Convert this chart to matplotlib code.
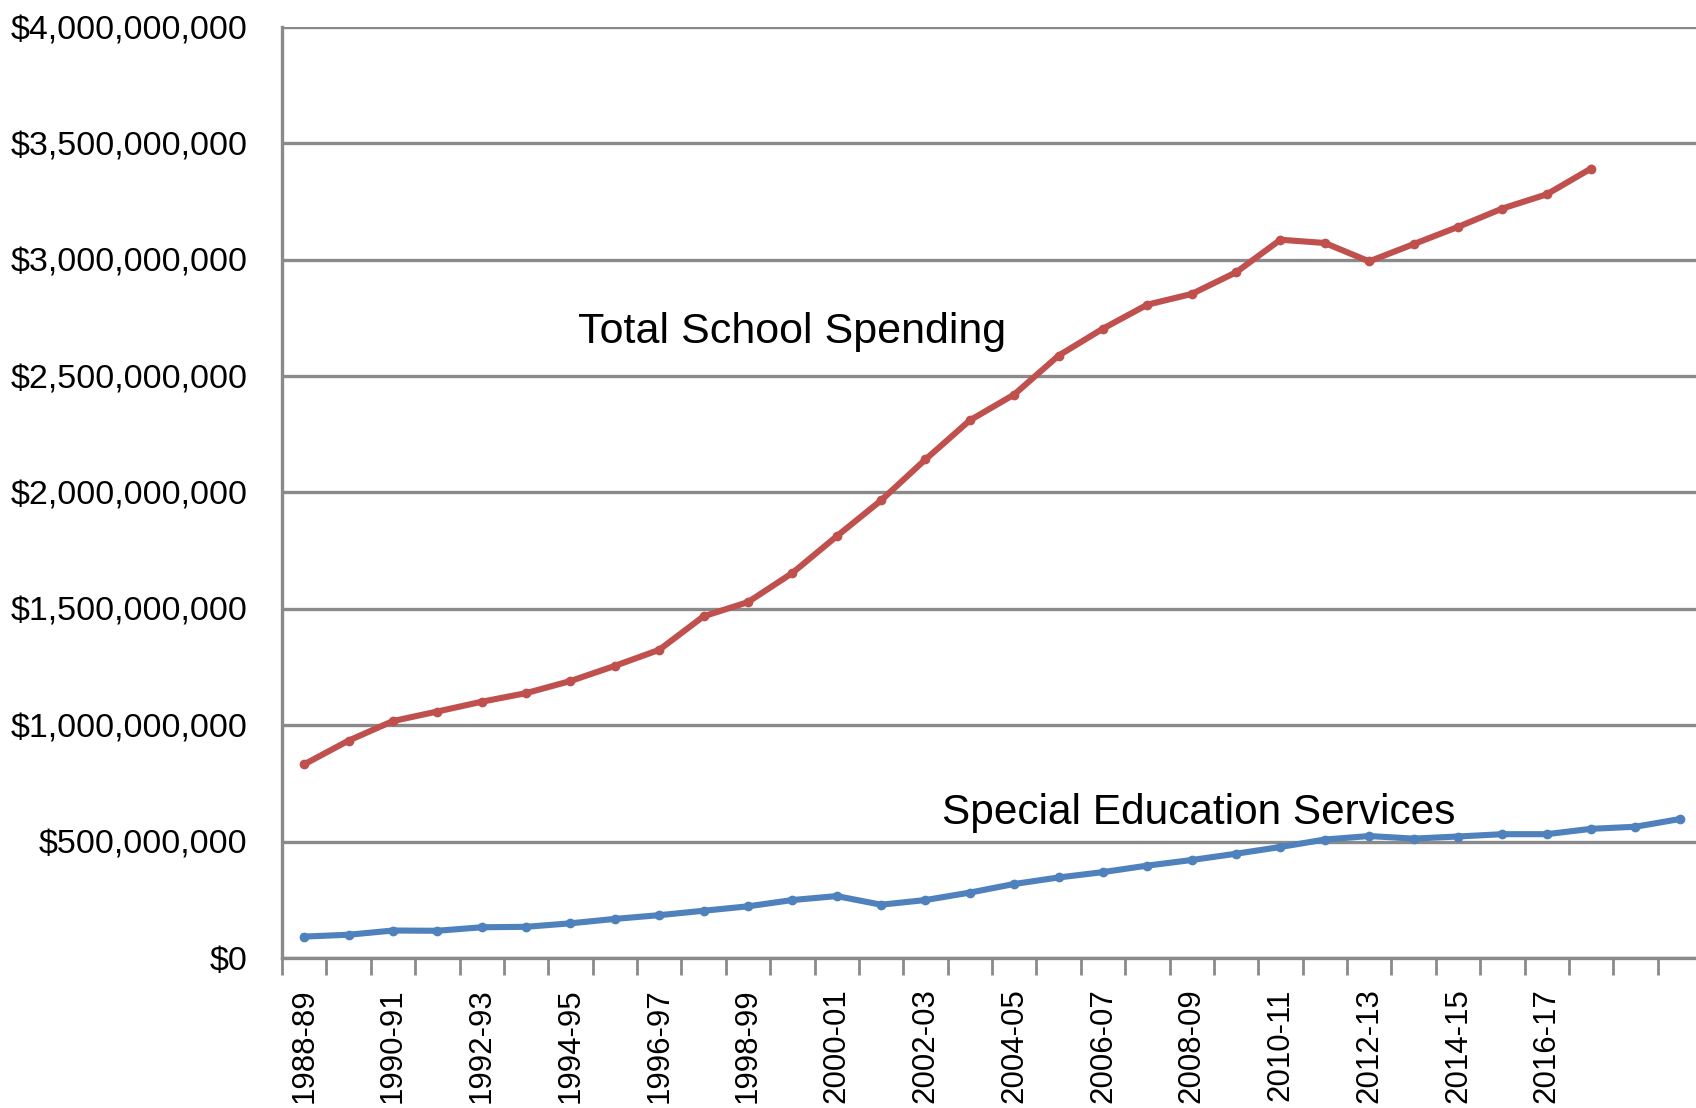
import numpy as np
import matplotlib.pyplot as plt
from matplotlib.ticker import FuncFormatter, FixedLocator

# school years 1988-89 through 2019-20
years = [f"{y}-{str(y + 1)[-2:]}" for y in range(1988, 2020)]

# total school spending, dollars (through 2017-18)
total_spending = [
    832e6, 934e6, 1018e6, 1059e6, 1101e6, 1138e6, 1190e6, 1255e6, 1324e6, 1468e6,
    1529e6, 1654e6, 1812e6, 1966e6, 2142e6, 2310e6, 2421e6, 2588e6, 2704e6, 2807e6,
    2853e6, 2946e6, 3086e6, 3072e6, 2993e6, 3067e6, 3141e6, 3220e6, 3281e6, 3392e6,
]

# special education services, dollars (through 2019-20)
sped_spending = [
    92e6, 100e6, 118e6, 117e6, 132e6, 134e6, 149e6, 168e6, 184e6, 203e6,
    222e6, 249e6, 266e6, 229e6, 249e6, 281e6, 318e6, 346e6, 369e6, 397e6,
    421e6, 448e6, 477e6, 509e6, 524e6, 513e6, 522e6, 532e6, 532e6, 555e6,
    564e6, 597e6,
]

plt.rcParams['font.family'] = ['Liberation Sans', 'DejaVu Sans']

fig = plt.figure(figsize=(16.96, 11.08), dpi=100)
ax = fig.add_axes([282 / 1696, 150 / 1108, 1420 / 1696, 931 / 1108])

grid_color = '#8a8a8a'
x_tot = np.arange(len(total_spending))
x_sped = np.arange(len(sped_spending))

ax.plot(x_tot, total_spending, color='#C0504D', lw=4.4, marker='o', ms=6,
        solid_joinstyle='round', zorder=3)
ax.plot(x_sped, sped_spending, color='#4F81BD', lw=4.4, marker='o', ms=6,
        solid_joinstyle='round', zorder=3)

ax.set_xlim(-0.5, len(years) - 0.5)
ax.set_ylim(0, 4e9)

# horizontal gridlines
ax.set_yticks(np.arange(0, 4.01e9, 5e8))
ax.yaxis.grid(True, color=grid_color, lw=2.4)
ax.set_axisbelow(True)
ax.yaxis.set_major_formatter(FuncFormatter(lambda v, p: f"${v:,.0f}"))
ax.tick_params(axis='y', length=0, pad=25, labelsize=24.5)

# category boundaries get tick marks, every other category gets a label
ax.xaxis.set_major_locator(FixedLocator(np.arange(-0.5, len(years) + 0.5, 1)))
ax.xaxis.set_major_formatter(FuncFormatter(lambda v, p: ""))
label_pos = np.arange(0, len(years) - 2, 2)
ax.xaxis.set_minor_locator(FixedLocator(label_pos))
ax.set_xticklabels([years[i] for i in label_pos], minor=True, rotation=90)
ax.tick_params(axis='x', which='major', length=12, width=2, color=grid_color)
ax.tick_params(axis='x', which='minor', length=0, pad=22, labelsize=22.5)

for side in ['top', 'right']:
    ax.spines[side].set_visible(False)
for side in ['left', 'bottom']:
    ax.spines[side].set_color(grid_color)
    ax.spines[side].set_linewidth(2.4)

ax.text(11.0, 2.69e9, "Total School Spending", fontsize=31, va='center', ha='center')
ax.text(20.15, 0.625e9, "Special Education Services", fontsize=30.5, va='center', ha='center')

fig.savefig('out.png', dpi=100)
